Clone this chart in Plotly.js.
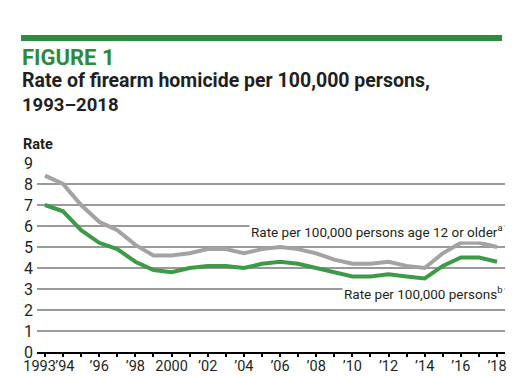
<!DOCTYPE html>
<html>
<head>
<meta charset="utf-8">
<script src="https://cdn.plot.ly/plotly-3.0.1.min.js"></script>
<style>html,body{margin:0;padding:0;background:#fff;}#chart{width:529px;height:376px;}</style>
</head>
<body>
<div id="chart"></div>
<script>
const years = [1993,1994,1995,1996,1997,1998,1999,2000,2001,2002,2003,2004,2005,2006,2007,2008,2009,2010,2011,2012,2013,2014,2015,2016,2017,2018];
const rateAge12Plus = [8.4,8.0,7.0,6.2,5.8,5.1,4.6,4.6,4.7,4.9,4.9,4.7,4.9,5.0,4.9,4.7,4.4,4.2,4.2,4.3,4.1,4.0,4.7,5.2,5.2,5.0];
const rateAll = [7.0,6.7,5.8,5.2,4.9,4.3,3.9,3.8,4.0,4.1,4.1,4.0,4.2,4.3,4.2,4.0,3.8,3.6,3.6,3.7,3.6,3.5,4.1,4.5,4.5,4.3];
const tickYears = [1993,1994,1996,1998,2000,2002,2004,2006,2008,2010,2012,2014,2016,2018];
const tickLabels = ["1993\u00a0\u00a0\u00a0","\u00a0\u201994","\u201996","\u201998","2000","\u201902","\u201904","\u201906","\u201908","\u201910","\u201912","\u201914","\u201916","\u201918"];
const yTicks = [0,1,2,3,4,5,6,7,8,9];

const FONT = "Roboto, 'Liberation Sans', sans-serif";
const DARK = "#231f20";
const GREEN = "#3d9a47";
const TITLEGREEN = "#2e8b3e";

const traces = [
  {x: years, y: rateAge12Plus, xaxis: "x2", yaxis: "y", type: "scatter", mode: "lines", line: {color: "#a3a3a3", width: 4}, hoverinfo: "skip"},
  {x: years, y: rateAll, xaxis: "x", yaxis: "y", type: "scatter", mode: "lines", line: {color: GREEN, width: 4}, hoverinfo: "skip"}
];

const L = 37, R = 24, T = 163, B = 24;
const W = 529, H = 376;
const pw = W - L - R, ph = H - T - B;
const px = v => (v - L) / pw;
const py = v => (H - B - v) / ph;
const XRANGE = [1992.56, 2018.44];

const layout = {
  width: W, height: H,
  margin: {l: L, r: R, t: T, b: B, pad: 0},
  paper_bgcolor: "#fff", plot_bgcolor: "#fff",
  showlegend: false,
  font: {family: FONT, color: DARK, size: 15},
  xaxis: {
    range: XRANGE,
    tickmode: "array", tickvals: tickYears, ticktext: tickLabels,
    tickangle: 0,
    showgrid: false, zeroline: false,
    showline: true, linecolor: "#000", linewidth: 2,
    ticks: "",
    tickfont: {family: FONT, size: 14.5, color: DARK},
    fixedrange: true
  },
  xaxis2: {
    range: XRANGE, overlaying: "x", anchor: "y", side: "bottom",
    tickmode: "array", tickvals: years,
    showticklabels: false, showgrid: false, zeroline: false, showline: false,
    ticks: "outside", ticklen: 4, tickwidth: 2, tickcolor: "#000",
    fixedrange: true
  },
  yaxis: {
    range: [0, 9],
    tickmode: "array", tickvals: yTicks, ticktext: yTicks.map(String),
    showgrid: true, gridcolor: "#9a9a9a", gridwidth: 1.3,
    zeroline: false, showline: false, ticks: "", ticklabelstandoff: 3,
    tickfont: {family: FONT, size: 16, color: DARK},
    fixedrange: true
  },
  shapes: [
    {type: "rect", xref: "paper", yref: "paper", x0: px(21), x1: px(502), y0: py(41), y1: py(35), fillcolor: TITLEGREEN, line: {width: 0}}
  ],
  annotations: [
    {xref: "paper", yref: "paper", x: px(20), y: py(57.5), xanchor: "left", yanchor: "middle", showarrow: false,
     text: "<b>FIGURE 1</b>", font: {family: FONT, size: 22, color: TITLEGREEN}},
    {xref: "paper", yref: "paper", x: px(20), y: py(80), xanchor: "left", yanchor: "middle", showarrow: false,
     text: "<b>Rate of firearm homicide per 100,000 persons,</b>", font: {family: FONT, size: 19.5, color: DARK}},
    {xref: "paper", yref: "paper", x: px(20), y: py(105), xanchor: "left", yanchor: "middle", showarrow: false,
     text: "<b>1993\u20132018</b>", font: {family: FONT, size: 18.5, color: DARK}},
    {xref: "paper", yref: "paper", x: px(21), y: py(145), xanchor: "left", yanchor: "middle", showarrow: false,
     text: "<b>Rate</b>", font: {family: FONT, size: 14.5, color: DARK}},
    {xref: "paper", yref: "y", x: 1, y: 5.78, xanchor: "right", yanchor: "middle", showarrow: false,
     text: "Rate per 100,000 persons age 12 or older<sup>a</sup>", bgcolor: "#fff", borderpad: 1,
     font: {family: FONT, size: 13.5, color: DARK}},
    {xref: "paper", yref: "y", x: 1, y: 2.8, xanchor: "right", yanchor: "middle", showarrow: false,
     text: "Rate per 100,000 persons<sup>b</sup>", bgcolor: "#fff", borderpad: 1,
     font: {family: FONT, size: 13.5, color: DARK}}
  ]
};

Plotly.newPlot("chart", traces, layout, {displayModeBar: false, staticPlot: true});
</script>
</body>
</html>
